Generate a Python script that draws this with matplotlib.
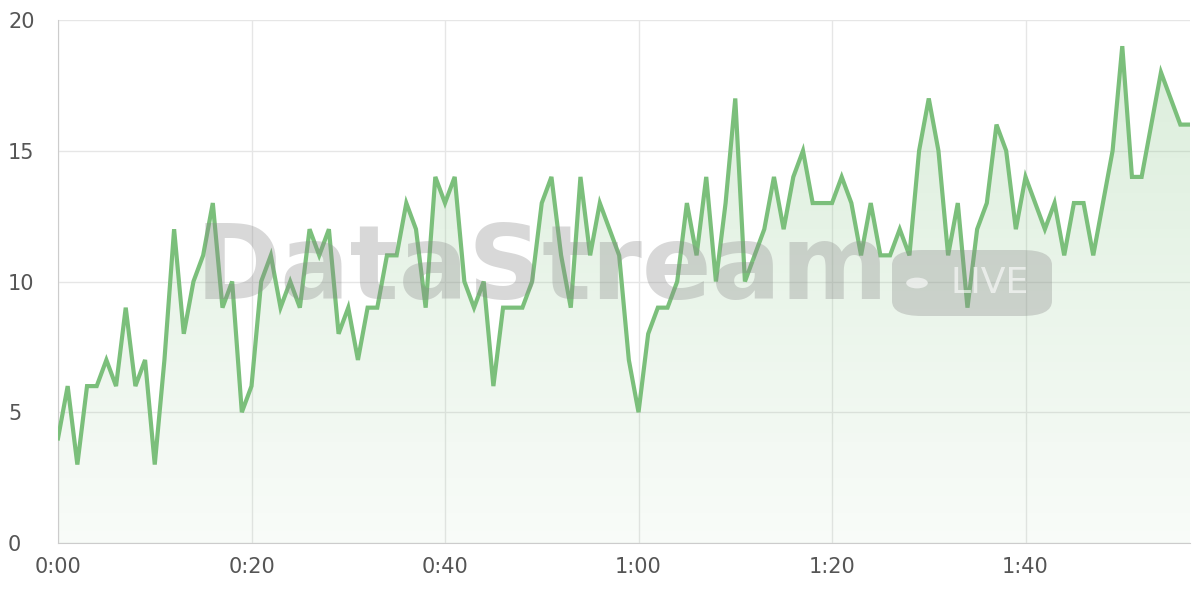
import matplotlib
matplotlib.use("Agg")
import matplotlib.pyplot as plt
import numpy as np
from matplotlib.patches import FancyBboxPatch, Circle

values = [4,6,3,6,6,7,6,9,6,7,3,7,12,8,10,11,13,9,10,5,
          6,10,11,9,10,9,12,11,12,8,9,7,9,9,11,11,13,12,9,14,
          13,14,10,9,10,6,9,9,9,10,13,14,11,9,14,11,13,12,11,7,
          5,8,9,9,10,13,11,14,10,13,17,10,11,12,14,12,14,15,13,13,
          13,14,13,11,13,11,11,12,11,15,17,15,11,13,9,12,13,16,15,12,
          14,13,12,13,11,13,13,11,13,15,19,14,14,16,18,17,16,16]
minutes = list(range(len(values)))
tick_minutes = [0,20,40,60,80,100]
tick_labels = ["0:00","0:20","0:40","1:00","1:20","1:40"]
y_ticks = [0,5,10,15,20]

fig = plt.figure(figsize=(12,6), dpi=100)
ax = fig.add_axes([58/1200, 1-543/600, (1190-58)/1200, (543-20)/600])
x = np.array(minutes); y = np.array(values)
color = "#7bbf7b"

# watermark
fig.text(0.452, 0.55, "DataStream", fontsize=74, fontweight="bold", color="#8a8a8a",
         alpha=0.33, ha="center", va="center", family="DejaVu Sans", zorder=0)
badge = FancyBboxPatch((892/1200, 1-316/600), 160/1200, 66/600,
                       boxstyle="round,pad=0,rounding_size=0.025", transform=fig.transFigure,
                       facecolor="#8a8a8a", alpha=0.33, edgecolor="none", zorder=0)
fig.patches.append(badge)
fig.patches.append(Circle((917/1200, 1-283/600), 0.009, transform=fig.transFigure,
                          facecolor="white", alpha=0.6, edgecolor="none"))
fig.text(990/1200, 1-283/600, "LIVE", fontsize=26, color="white", alpha=0.6,
         ha="center", va="center")

ax.set_facecolor("none")
n = 256
alpha = np.linspace(0.28, 0.05, n)
rgba = np.zeros((n, 1, 4))
rgba[:, 0, 0] = 0.48; rgba[:, 0, 1] = 0.75; rgba[:, 0, 2] = 0.48
rgba[:, 0, 3] = alpha
im = ax.imshow(rgba, extent=[0, 117, 0, 20], origin="upper", aspect="auto", zorder=1)
poly = ax.fill_between(x, y, 0, facecolor="none", edgecolor="none")
path = poly.get_paths()[0]
im.set_clip_path(path, transform=ax.transData)
ax.plot(x, y, color=color, lw=3, zorder=3, solid_joinstyle="miter")

ax.set_xlim(0, 117); ax.set_ylim(0, 20)
ax.set_xticks(tick_minutes); ax.set_xticklabels(tick_labels)
ax.set_yticks(y_ticks)
ax.grid(True, color="#e6e6e6", lw=1)
ax.set_axisbelow(True)
for s in ["top","right"]: ax.spines[s].set_visible(False)
for s in ["left","bottom"]: ax.spines[s].set_color("#cccccc")
ax.tick_params(length=0, labelsize=15, colors="#555555", pad=10)
for t in ax.get_yticklabels(): t.set_horizontalalignment("left")
ax.yaxis.set_tick_params(pad=36)
fig.savefig("out.png", dpi=100)
